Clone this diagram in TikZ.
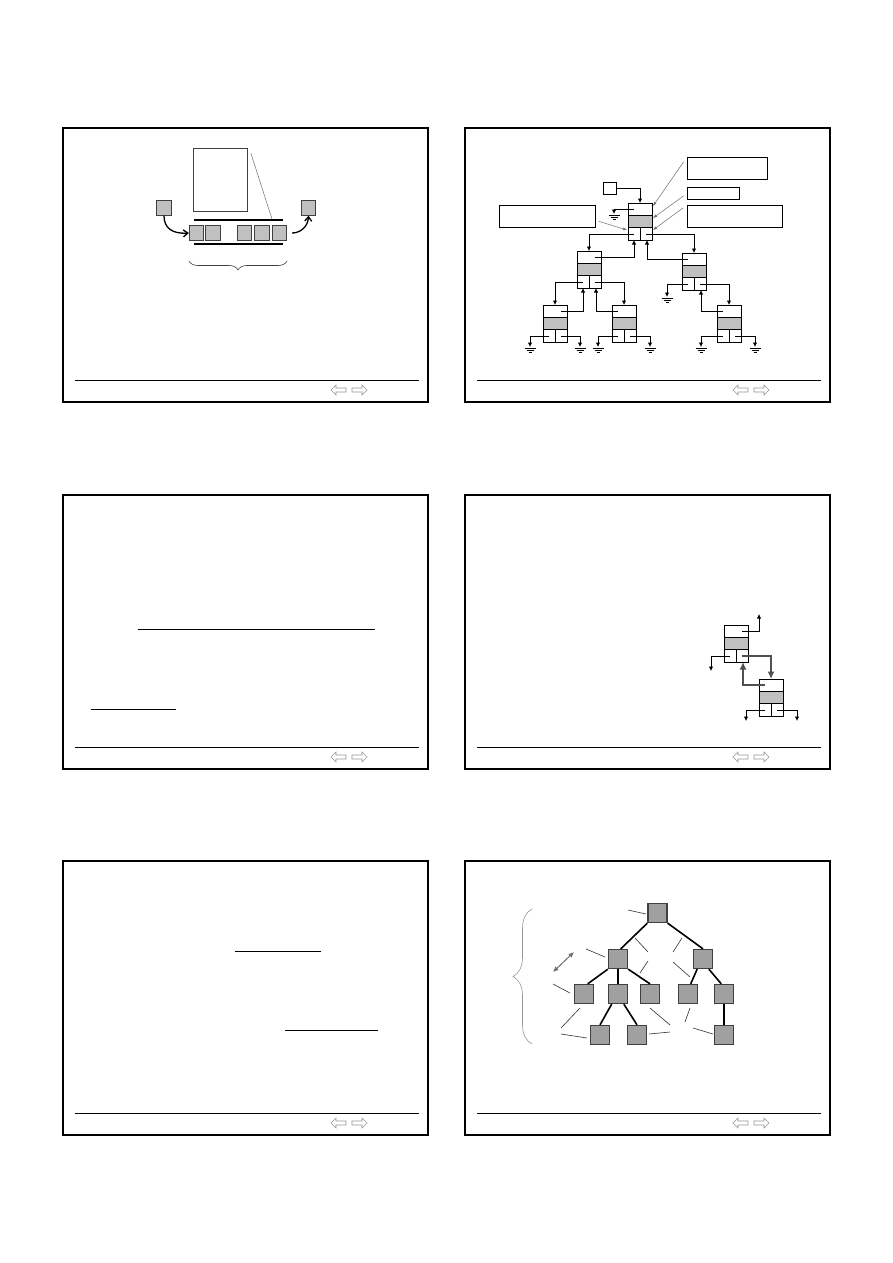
\documentclass[tikz,border=0pt]{standalone}
\usetikzlibrary{arrows.meta,decorations.pathreplacing}
\definecolor{cellgrey}{RGB}{192,192,192}
\definecolor{sqfill}{RGB}{160,160,160}
\definecolor{sqedge}{RGB}{64,64,64}
\definecolor{navgrey}{RGB}{150,150,150}
\definecolor{leadgrey}{RGB}{110,110,110}
\definecolor{hiligrey}{RGB}{80,80,80}
\tikzset{
  frameline/.style={line width=2pt},
  footline/.style={line width=1pt},
  navarrow/.style={draw=navgrey,line width=0.6pt},
  greysq/.style={draw=sqedge,fill=cellgrey,line width=0.8pt,minimum size=14.5pt,inner sep=0pt},
  barline/.style={line width=2pt},
  curvarrow/.style={line width=1.3pt,-{Straight Barb[length=4.5pt,width=7pt]}},
  labelbox/.style={draw,line width=0.8pt,inner sep=0pt,anchor=north west},
  leader/.style={draw=leadgrey,line width=0.5pt,-{Latex[length=4pt,width=3pt]}},
  tbox/.style={draw,line width=0.8pt,minimum width=24pt,minimum height=37pt,inner sep=0pt,outer sep=0pt,anchor=north west},
  tline/.style={line width=0.8pt},
  ptr/.style={line width=0.8pt,-{Latex[length=4.5pt,width=4.5pt]}},
  gline/.style={line width=0.8pt},
  hilite/.style={draw=hiligrey,line width=1.8pt,-{Latex[length=7.5pt,width=7pt]}},
  treesq/.style={draw=sqedge,fill=sqfill,line width=1.3pt,minimum size=19pt,inner sep=0pt},
  treeedge/.style={line width=1.6pt},
  thinlead/.style={line width=0.6pt,draw=black!80},
  plainline/.style={line width=1pt}
}
% tree record node: name, x, y (top-left corner)
\newcommand\treenode[3]{%
  \fill[cellgrey] (#2,#3+12.3) rectangle (#2+24,#3+24.7);
  \node[tbox] (#1) at (#2,#3) {};
  \draw[tline] (#2,#3+12.3) -- (#2+24,#3+12.3) (#2,#3+24.7) -- (#2+24,#3+24.7) (#2+12,#3+24.7) -- (#2+12,#3+37);
  \coordinate (#1-tl) at (#2+6,#3+6.2);
  \coordinate (#1-tr) at (#2+18,#3+6.2);
  \coordinate (#1-bl) at (#2+6,#3+31);
  \coordinate (#1-br) at (#2+18,#3+31);
  \coordinate (#1-sl) at (#2+6,#3+37);
  \coordinate (#1-sr) at (#2+19,#3+37);
}
% ground symbol: name, x, y (tip)
\newcommand\gnd[3]{%
  \coordinate (#1) at (#2,#3);
  \draw[gline] (#2-5.5,#3+1) -- (#2+5.5,#3+1) (#2-3.5,#3+3.2) -- (#2+3.5,#3+3.2) (#2-1.5,#3+5.4) -- (#2+1.5,#3+5.4);
}
% slide frame, footer, nav arrows
\newcommand\slideframe[2]{%
  \begin{scope}[shift={(#1,#2)}]
    \draw[frameline] (63,128) rectangle (428,402);
    \draw[footline] (75,380) -- (419,380);
    \draw[navarrow] (331,390) -- (336,385) -- (336,388) -- (346,388) -- (346,392) -- (336,392) -- (336,395) -- cycle;
    \draw[navarrow] (367,390) -- (362,385) -- (362,388) -- (352,388) -- (352,392) -- (362,392) -- (362,395) -- cycle;
  \end{scope}
}
\begin{document}
\begin{tikzpicture}[x=1pt,y=-1pt]
\fill[white] (0,0) rectangle (893,1263);
\useasboundingbox (0,0) rectangle (893,1263);

\slideframe{0}{0}
\slideframe{402}{0}
\slideframe{0}{367}
\slideframe{402}{367}
\slideframe{0}{733}
\slideframe{402}{733}

%%%%% Panel 1 %%%%%
\node[draw=sqedge,line width=0.8pt,minimum width=54pt,minimum height=63pt,inner sep=0pt,anchor=north west] (big) at (193,148) {};
\draw[barline] (194,220) -- (283,220);
\draw[barline] (194,244) -- (283,244);
\node[greysq] (q1) at (196.5,233) {};
\node[greysq] (q2) at (213,233) {};
\node[greysq] (q3) at (244.5,233) {};
\node[greysq] (q4) at (262,233) {};
\node[greysq] (q5) at (279.5,233) {};
\node[greysq] (s0) at (164,208) {};
\node[greysq] (s6) at (308.5,208) {};
\draw[draw=leadgrey,line width=0.5pt] (big.north east) ++(3,5) -- (272,219);
\draw[curvarrow] (s0.south) .. controls (164,228) and (172,234) .. (q1.west);
\draw[curvarrow,shorten <=5pt] (q5.east) .. controls (300,233) and (308,227) .. (s6.south);
\draw[decorate,decoration={brace,amplitude=9pt},draw=sqedge,line width=0.6pt] (287,261) -- (189,261);

%%%%% Panel 2 %%%%%
\node[labelbox,minimum width=80pt,minimum height=22pt] (A) at (687,157) {};
\node[labelbox,minimum width=52pt,minimum height=12pt] (B) at (687,187) {};
\node[labelbox,minimum width=95pt,minimum height=22pt] (C) at (687,205) {};
\node[labelbox,minimum width=96pt,minimum height=22pt] (D) at (499,205) {};
\node[labelbox,minimum width=13pt,minimum height=12pt] (S) at (603,182) {};

\treenode{R}{628}{203}
\treenode{L}{577}{251}
\treenode{Rc}{682}{253}
\treenode{LL}{543}{305}
\treenode{LR}{612}{305}
\treenode{RR}{717}{305}

\coordinate (ra) at (653,206);
\coordinate (rb) at (653,218);
\coordinate (rc) at (653,230);
\coordinate (rd) at (627,230);
\draw[leader,shorten <=6pt] (A.north west) -- (ra);
\draw[leader,shorten <=4pt] (B.west) -- (rb);
\draw[leader,shorten <=5pt] (C.north west) -- (rc);
\draw[leader,shorten <=3pt] ([yshift=-4pt]D.east) -- (rd);

\gnd{g0}{614}{214}
\gnd{g1}{667}{297}
\gnd{g2}{530}{347}
\gnd{g3}{580}{347}
\gnd{g4}{598}{347}
\gnd{g5}{650}{347}
\gnd{g6}{701}{347}
\gnd{g7}{755}{347}

\draw[ptr] (S.east) -| (R.north);
\draw[ptr] (R-tl) -| (g0);
\draw[ptr] (R-bl) -| (L.north);
\draw[ptr] (R-br) -| (Rc.north);
\draw[ptr] (L-tr) -| (R-sl);
\draw[ptr] (Rc-tl) -| (R-sr);
\draw[ptr] (L-bl) -| (LL.north);
\draw[ptr] (L-br) -| (LR.north);
\draw[ptr] (LL-tr) -| (L-sl);
\draw[ptr] (LR-tl) -| (L-sr);
\draw[ptr] (Rc-bl) -| (g1);
\draw[ptr] (Rc-br) -| (RR.north);
\draw[ptr] (RR-tl) -| (Rc-sr);
\draw[ptr] (LL-bl) -| (g2);
\draw[ptr] (LL-br) -| (g3);
\draw[ptr] (LR-bl) -| (g4);
\draw[ptr] (LR-br) -| (g5);
\draw[ptr] (RR-bl) -| (g6);
\draw[ptr] (RR-br) -| (g7);

%%%%% Panel 3 %%%%%
\draw[plainline] (138,629) -- (375,629);
\draw[plainline] (91,709) -- (176,709);

%%%%% Panel 4 %%%%%
\treenode{NA}{724}{625}
\treenode{NB}{759}{679}
\coordinate (up1) at (759,614);
\coordinate (dn1) at (711,671);
\coordinate (dn2) at (746,721);
\coordinate (dn3) at (797,721);
\draw[ptr] (NA-tr) -| (up1);
\draw[ptr] (NA-bl) -| (dn1);
\draw[ptr] (NB-bl) -| (dn2);
\draw[ptr] (NB-br) -| (dn3);
\draw[hilite] (NA-br) -| (NB.north);
\draw[hilite] (NB-tl) -| (NA-sr);

%%%%% Panel 5 %%%%%
\draw[plainline] (235,951) -- (321,951);
\draw[plainline] (285,1030) -- (378,1030);

%%%%% Panel 6 %%%%%
\node[treesq] (t0) at (657.5,913) {};
\node[treesq] (ta) at (618,959) {};
\node[treesq] (tb) at (703,959) {};
\node[treesq] (c1) at (584,994) {};
\node[treesq] (c2) at (618,994) {};
\node[treesq] (c3) at (650,994) {};
\node[treesq] (c4) at (688,994) {};
\node[treesq] (c5) at (724,994) {};
\node[treesq] (d1) at (600,1035) {};
\node[treesq] (d2) at (637,1035) {};
\node[treesq] (d3) at (724,1035) {};
\draw[treeedge] (t0.south west) -- (ta.75);
\draw[treeedge] (t0.south east) -- (tb.north);
\draw[treeedge] (ta.south west) -- (c1.70);
\draw[treeedge] (ta.south) -- (c2.north);
\draw[treeedge] (ta.south east) -- (c3.north);
\draw[treeedge] (tb.240) -- (c4.75);
\draw[treeedge] (tb.300) -- (c5.105);
\draw[treeedge] (c2.238) -- (d1.north);
\draw[treeedge] (c2.300) -- (d2.north);
\draw[treeedge] (c5.south) -- (d3.north);

\draw[thinlead] (628,910) -- (646,914);
\draw[thinlead] (635,938) -- (648,952);
\draw[thinlead] (682,938) -- (673,952);
\draw[thinlead] (586,949) -- (605,957);
\draw[thinlead] (648,961) -- (640,973);
\draw[thinlead] (673,962) -- (690,977);
\draw[thinlead] (553,984) -- (570,993);
\draw[thinlead] (580,1008) -- (561,1028);
\draw[thinlead] (650,1008) -- (670,1025);
\draw[thinlead] (690,1008) -- (685,1022);
\draw[thinlead] (561,1034) -- (587,1038);
\draw[thinlead] (649,1034) -- (670,1032);
\draw[thinlead] (693,1028) -- (713,1034);
\coordinate (da) at (553,972);
\coordinate (db) at (574,952);
\draw[draw=leadgrey,line width=1pt,{Latex[length=5.5pt,width=5pt]}-{Latex[length=5.5pt,width=5pt]}] (da) -- (db);
\draw[decorate,decoration={brace,amplitude=19pt},draw=navgrey,line width=0.6pt] (532,1044) -- (532,909);
\end{tikzpicture}
\end{document}
